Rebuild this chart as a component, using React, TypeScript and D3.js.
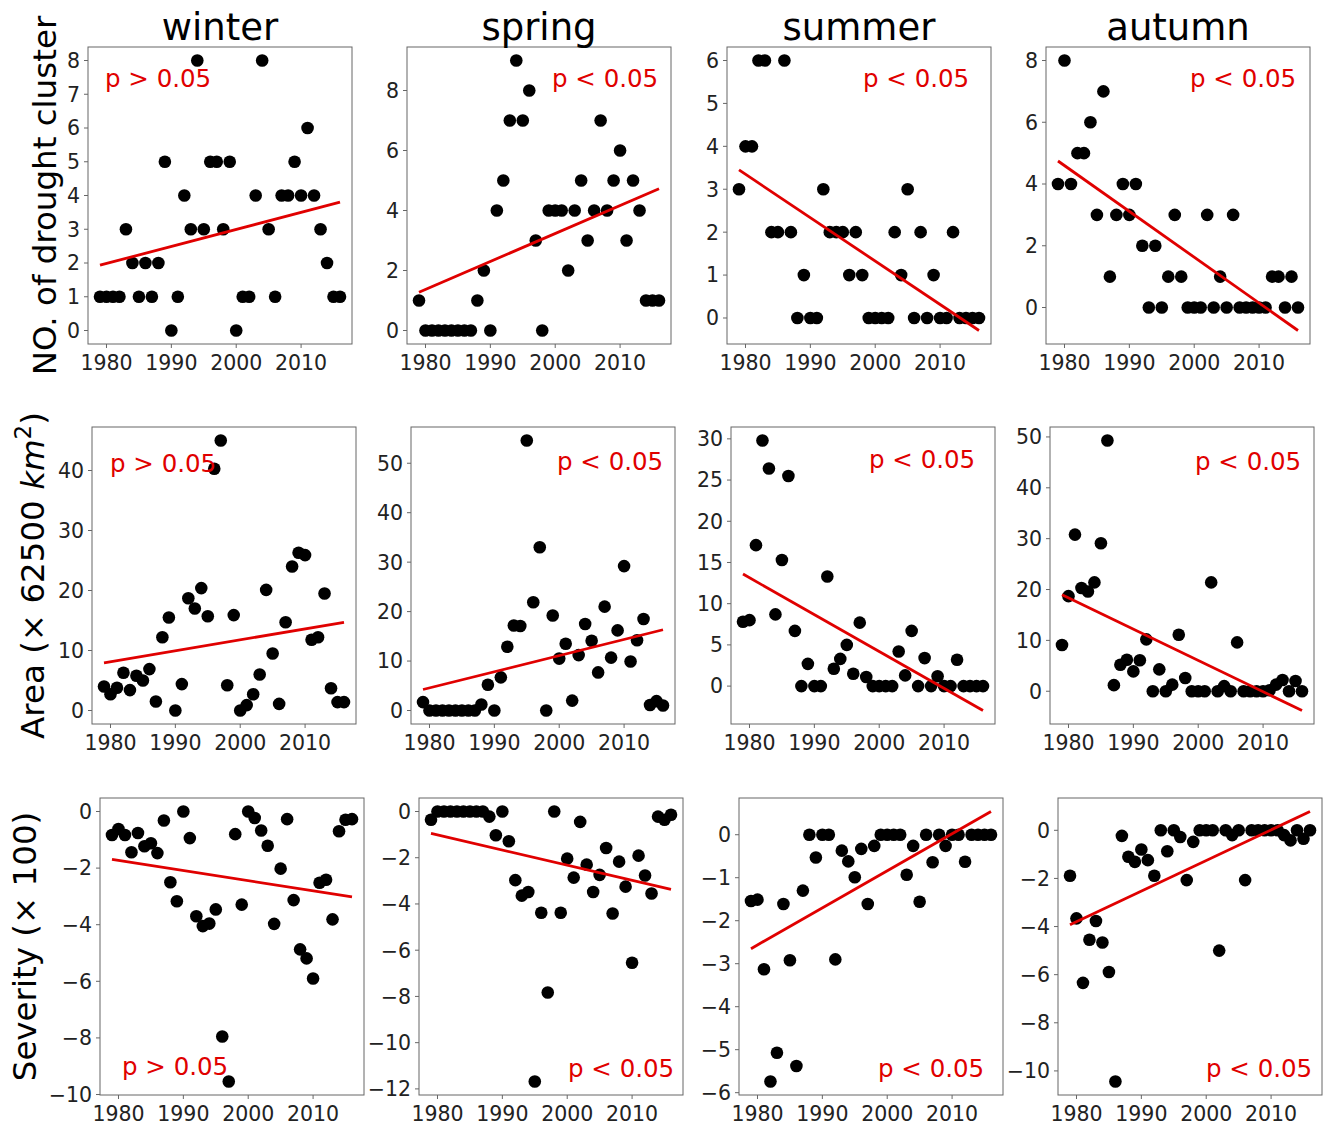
import { useEffect, useRef } from 'react';
import * as d3 from 'd3';

const years = d3.range(1979, 2017);
const seasons = ['winter', 'spring', 'summer', 'autumn'];

// number of drought clusters
const countWinter = [1, 1, 1, 1, 3, 2, 1, 2, 1, 2, 5, 0, 1, 4, 3, 8, 3, 5, 5, 3, 5, 0, 1, 1, 4, 8, 3, 1, 4, 4, 5, 4, 6, 4, 3, 2, 1, 1];
const countSpring = [1, 0, 0, 0, 0, 0, 0, 0, 0, 1, 2, 0, 4, 5, 7, 9, 7, 8, 3, 0, 4, 4, 4, 2, 4, 5, 3, 4, 7, 4, 5, 6, 3, 5, 4, 1, 1, 1];
const countSummer = [3, 4, 4, 6, 6, 2, 2, 6, 2, 0, 1, 0, 0, 3, 2, 2, 2, 1, 2, 1, 0, 0, 0, 0, 2, 1, 3, 0, 2, 0, 1, 0, 0, 2, 0, 0, 0, 0];
const countAutumn = [4, 8, 4, 5, 5, 6, 3, 7, 1, 3, 4, 3, 4, 2, 0, 2, 0, 1, 3, 1, 0, 0, 0, 3, 0, 1, 0, 3, 0, 0, 0, 0, 0, 1, 1, 0, 1, 0];

// area (x 62500 km2)
const areaWinter = [4.0, 2.7, 3.8, 6.3, 3.4, 5.8, 5.0, 6.9, 1.5, 12.2, 15.5, 0, 4.4, 18.7, 17.0, 20.4, 15.7, 40.3, 45.0, 4.2, 15.9, 0, 0.9, 2.7, 6.0, 20.1, 9.5, 1.1, 14.7, 24.0, 26.3, 25.9, 11.8, 12.2, 19.5, 3.7, 1.4, 1.4];
const areaSpring = [1.7, 0, 0, 0, 0, 0, 0, 0, 0, 1.2, 5.2, 0, 6.7, 12.9, 17.2, 17.1, 54.6, 21.9, 33.0, 0, 19.2, 10.5, 13.5, 2.0, 11.2, 17.5, 14.1, 7.7, 21.0, 10.7, 16.2, 29.2, 9.9, 14.2, 18.5, 1.1, 1.9, 1.0];
const areaSummer = [7.8, 8.0, 17.1, 29.8, 26.4, 8.7, 15.3, 25.5, 6.7, 0, 2.7, 0, 0, 13.3, 2.1, 3.3, 5.0, 1.5, 7.7, 1.1, 0, 0, 0, 0, 4.2, 1.3, 6.7, 0, 3.4, 0, 1.2, 0, 0, 3.2, 0, 0, 0, 0];
const areaAutumn = [9.1, 18.7, 30.8, 20.3, 19.6, 21.4, 29.1, 49.3, 1.2, 5.2, 6.2, 3.9, 6.1, 10.2, 0, 4.3, 0, 1.3, 11.1, 2.6, 0, 0, 0, 21.4, 0, 1.0, 0, 9.6, 0, 0, 0, 0, 0.2, 1.3, 2.2, 0, 2.0, 0];

// severity (x 100)
const sevWinter = [-0.83, -0.62, -0.83, -1.44, -0.76, -1.23, -1.12, -1.47, -0.32, -2.5, -3.17, 0, -0.94, -3.7, -4.05, -3.96, -3.46, -7.95, -9.54, -0.8, -3.29, 0, -0.23, -0.67, -1.21, -3.97, -2.02, -0.27, -3.13, -4.87, -5.19, -5.9, -2.52, -2.41, -3.81, -0.7, -0.29, -0.27];
const sevSpring = [-0.36, 0, 0, 0, 0, 0, 0, 0, 0, -0.22, -1.03, 0, -1.29, -2.97, -3.64, -3.48, -11.68, -4.38, -7.83, 0, -4.38, -2.04, -2.86, -0.45, -2.3, -3.48, -2.74, -1.58, -4.41, -2.17, -3.25, -6.54, -1.91, -2.77, -3.55, -0.22, -0.36, -0.14];
const sevSummer = [-1.54, -1.51, -3.13, -5.74, -5.07, -1.61, -2.92, -5.38, -1.3, 0, -0.53, 0, 0, -2.9, -0.37, -0.62, -0.99, -0.33, -1.61, -0.26, 0, 0, 0, 0, -0.93, -0.26, -1.56, 0, -0.64, 0, -0.26, 0, 0, -0.63, 0, 0, 0, 0];
const sevAutumn = [-1.89, -3.66, -6.34, -4.55, -3.77, -4.66, -5.89, -10.44, -0.23, -1.1, -1.31, -0.8, -1.24, -1.89, 0, -0.87, 0, -0.28, -2.07, -0.48, 0, 0, 0, -5.0, 0, -0.2, 0, -2.07, 0, 0, 0, 0, 0, -0.2, -0.42, 0, -0.35, 0];

const xTicks = [1980, 1990, 2000, 2010];
const countTicks = [[0, 1, 2, 3, 4, 5, 6, 7, 8], [0, 2, 4, 6, 8], [0, 1, 2, 3, 4, 5, 6], [0, 2, 4, 6, 8]];
const areaTicks = [[0, 10, 20, 30, 40], [0, 10, 20, 30, 40, 50], [0, 5, 10, 15, 20, 25, 30], [0, 10, 20, 30, 40, 50]];
const sevTicks = [[0, -2, -4, -6, -8, -10], [0, -2, -4, -6, -8, -10, -12], [0, -1, -2, -3, -4, -5, -6], [0, -2, -4, -6, -8, -10]];

const pTexts = [
  ['p > 0.05', 'p < 0.05', 'p < 0.05', 'p < 0.05'],
  ['p > 0.05', 'p < 0.05', 'p < 0.05', 'p < 0.05'],
  ['p > 0.05', 'p < 0.05', 'p < 0.05', 'p < 0.05'],
];

const rows = [
  { values: [countWinter, countSpring, countSummer, countAutumn], ticks: countTicks },
  { values: [areaWinter, areaSpring, areaSummer, areaAutumn], ticks: areaTicks },
  { values: [sevWinter, sevSpring, sevSummer, sevAutumn], ticks: sevTicks },
];

// layout
const rowTops = [47, 427, 798];
const rowLefts = [88, 92, 100];
const colSteps = [0, 319, 639, 958];
const boxW = 264;
const boxH = 297;
const pOffsets = [
  [[17, 40], [145, 40], [136, 40], [144, 40]],
  [[18, 45], [146, 43], [138, 41], [145, 43]],
  [[22, 277], [149, 279], [139, 279], [148, 279]],
];

const FONT = 'DejaVu Sans, sans-serif';
const fmt = (v: number) => (v < 0 ? '\u2212' + Math.abs(v) : String(v));

const App = () => {
  const svgRef = useRef<SVGSVGElement>(null);

  useEffect(() => {
    const svg = d3.select(svgRef.current);
    svg.selectAll('*').remove();
    svg.append('rect').attr('width', 1323).attr('height', 1125).attr('fill', '#fff');

    rows.forEach((row, r) => {
      row.values.forEach((vals, c) => {
        const x0 = rowLefts[r] + colSteps[c];
        const y0 = rowTops[r];

        // least squares trend
        const mx = d3.mean(years)!;
        const my = d3.mean(vals)!;
        const slope = d3.sum(years, (yr, i) => (yr - mx) * (vals[i] - my)) / d3.sum(years, yr => (yr - mx) ** 2);
        const fit = (yr: number) => my + slope * (yr - mx);
        const fitPts = [years[0], years[years.length - 1]].map(yr => [yr, fit(yr)]);

        const lo = Math.min(d3.min(vals)!, fitPts[0][1], fitPts[1][1]);
        const hi = Math.max(d3.max(vals)!, fitPts[0][1], fitPts[1][1]);
        const pad = (hi - lo) * 0.05;
        const xPad = (years[years.length - 1] - years[0]) * 0.05;

        const x = d3.scaleLinear().domain([years[0] - xPad, years[years.length - 1] + xPad]).range([x0, x0 + boxW]);
        const y = d3.scaleLinear().domain([lo - pad, hi + pad]).range([y0 + boxH, y0]);

        const g = svg.append('g');

        // ticks
        row.ticks[c].forEach(t => {
          g.append('line').attr('x1', x0 - 4).attr('x2', x0).attr('y1', y(t)).attr('y2', y(t)).attr('stroke', '#666');
          g.append('text').attr('x', x0 - 8).attr('y', y(t)).attr('dy', '0.36em')
            .attr('text-anchor', 'end').attr('font-family', FONT).attr('font-size', 20.5).attr('fill', '#222')
            .text(fmt(t));
        });
        xTicks.forEach(t => {
          g.append('line').attr('x1', x(t)).attr('x2', x(t)).attr('y1', y0 + boxH).attr('y2', y0 + boxH + 4).attr('stroke', '#666');
          g.append('text').attr('x', x(t)).attr('y', y0 + boxH + 26)
            .attr('text-anchor', 'middle').attr('font-family', FONT).attr('font-size', 20.5).attr('fill', '#222')
            .text(t);
        });

        // dots
        g.selectAll('circle.pt')
          .data(vals)
          .enter()
          .append('circle')
          .attr('cx', (_, i) => x(years[i]))
          .attr('cy', d => y(d))
          .attr('r', 6.3)
          .attr('fill', '#000');

        // trend line
        g.append('path')
          .attr('d', d3.line().x(d => x(d[0])).y(d => y(d[1]))(fitPts as [number, number][]))
          .attr('stroke', '#e00000').attr('stroke-width', 2.8).attr('fill', 'none');

        // frame
        g.append('rect').attr('x', x0).attr('y', y0).attr('width', boxW).attr('height', boxH)
          .attr('fill', 'none').attr('stroke', '#666').attr('stroke-width', 1);

        g.append('text')
          .attr('x', x0 + pOffsets[r][c][0]).attr('y', y0 + pOffsets[r][c][1])
          .attr('font-family', FONT).attr('font-size', 24.5).attr('fill', '#e00000')
          .text(pTexts[r][c]);

        if (r === 0) {
          svg.append('text').attr('x', x0 + boxW / 2).attr('y', 40)
            .attr('text-anchor', 'middle').attr('font-family', FONT).attr('font-size', 37).attr('fill', '#000')
            .text(seasons[c]);
        }
      });
    });

    // y labels
    const yl = (cx: number, cy: number) =>
      svg.append('text')
        .attr('transform', `translate(${cx},${cy}) rotate(-90)`)
        .attr('text-anchor', 'middle').attr('font-family', FONT).attr('font-size', 32.5).attr('fill', '#000');

    yl(56, rowTops[0] + boxH / 2).text('NO. of drought cluster');
    const area = yl(44, rowTops[1] + boxH / 2);
    area.append('tspan').text('Area (\u00d7 62500 ');
    area.append('tspan').attr('font-style', 'italic').text('km');
    area.append('tspan').attr('font-size', 23).attr('dy', -13).text('2');
    area.append('tspan').attr('dy', 13).text(')');
    yl(36, rowTops[2] + boxH / 2).text('Severity (\u00d7 100)');
  }, []);

  return (
    <div style={{ position: 'absolute', left: 0, top: 0 }}>
      <svg ref={svgRef} width={1323} height={1125}></svg>
    </div>
  );
};

export default App;
